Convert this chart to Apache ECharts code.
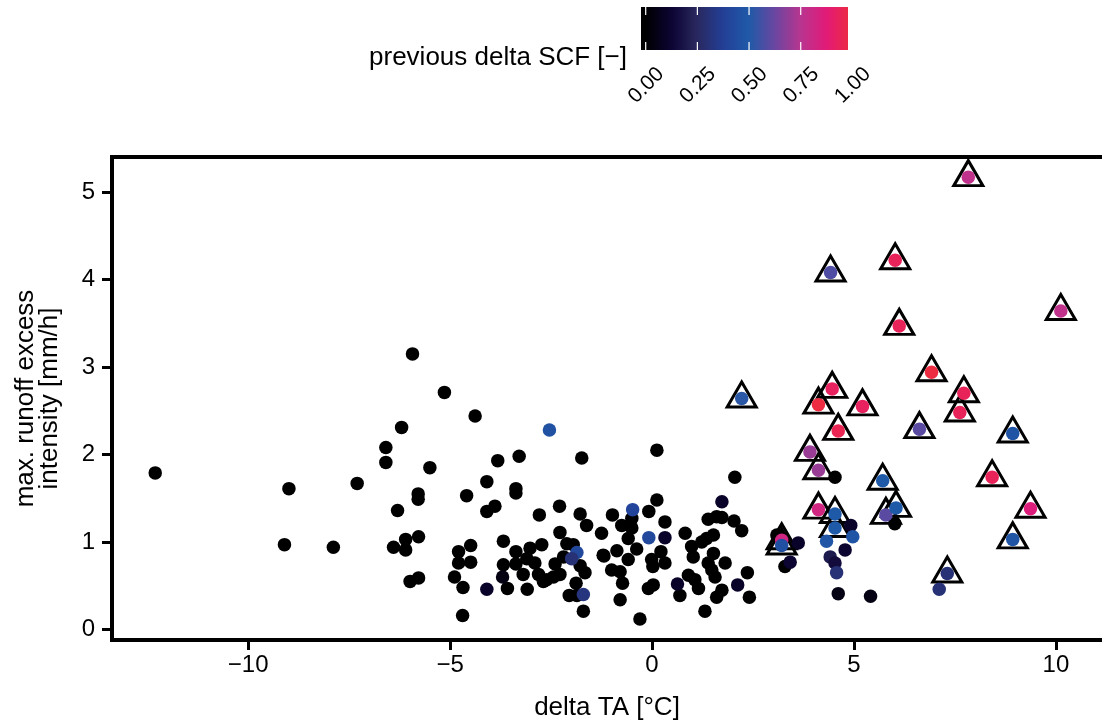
<!DOCTYPE html>
<html>
<head>
<meta charset="utf-8">
<script src="https://cdn.jsdelivr.net/npm/echarts@6/dist/echarts.min.js"></script>
<style>
  html, body { margin: 0; padding: 0; background: #ffffff; }
  #chart { width: 1102px; height: 722px; }
</style>
</head>
<body>
<div id="chart"></div>
<script>
// Temperature change per event [°C]
const deltaTA = [
  -12.30, -8.99, -9.10, -7.89, -7.30, -6.59, -6.59, -6.20, -5.14, -4.38,
  -5.50, -5.79, -5.79, -6.30, -4.59, -4.09, -3.82, -3.89, -4.09, -6.40,
  -6.10, -6.10, -5.78, -5.99, -5.78, -4.79, -4.79, -4.49, -4.49, -4.89,
  -4.68, -4.69, -5.93, -3.29, -1.74, -3.37, -3.37, -2.79, -2.29, -1.78,
  -1.62, -2.28, -1.25, -3.68, -3.37, -3.68, -3.58, -3.37, -3.02, -2.73,
  -2.90, -3.10, -3.19, -3.09, -2.81, -2.69, -2.40, -2.44, -2.19, -2.28,
  -2.11, -1.95, -1.78, -1.66, -1.88, -2.05, -1.86, -1.70, -2.61, 0.12,
  2.05, 0.12, -0.98, -0.08, -0.50, -0.75, -0.50, 0.32, -0.59, -0.38,
  -0.87, -1.19, -0.59, -1.00, -0.79, -0.73, 0.22, 0.32, -0.01, 0.02,
  -0.09, 0.03, -0.79, -0.30, 0.82, 0.98, 1.23, 1.35, 1.52, 1.02,
  1.52, 1.39, 1.48, 1.81, 1.56, 1.39, 1.60, 1.73, 2.03, 2.22,
  0.90, 1.06, 1.15, 0.69, 1.73, 1.60, 1.31, 2.36, 2.41, -1.21,
  3.09, 3.29, 4.53, 6.01,
  // events with some preceding snow-cover change
  -4.09, -2.54, -3.70, -1.86, -1.99, -1.70, 1.73, -0.48, -0.08, 0.32,
  0.63, 2.12, 3.62, 3.42, 4.92, 4.97, 4.32, 4.78, 4.41, 4.53,
  4.57, 4.61, 5.41, 7.11,
  // flagged events
  7.83, 6.02, 4.42, 10.12, 6.12, 6.92, 4.46, 7.72, 2.22, 4.12,
  5.21, 7.62, 4.61, 6.62, 8.93, 3.91, 4.12, 5.71, 8.42, 4.12,
  4.53, 4.53, 5.79, 6.04, 9.37, 8.93, 7.31, 3.21, 3.21
];

// Maximum runoff excess intensity [mm/h]
const runoffExcess = [
  1.79, 1.61, 0.97, 0.94, 1.67, 2.08, 1.91, 2.31, 2.71, 2.44,
  1.85, 1.55, 1.49, 1.36, 1.53, 1.69, 1.93, 1.41, 1.35, 0.94,
  1.03, 0.91, 1.06, 0.55, 0.59, 0.89, 0.76, 0.96, 0.77, 0.60,
  0.48, 0.16, 3.15, 1.98, 1.96, 1.61, 1.56, 1.31, 1.41, 1.32,
  1.19, 1.11, 1.10, 1.01, 0.89, 0.74, 0.47, 0.75, 0.93, 0.97,
  0.76, 0.81, 0.63, 0.46, 0.63, 0.55, 0.75, 0.60, 0.83, 0.63,
  0.98, 0.97, 0.73, 0.65, 0.53, 0.39, 0.39, 0.21, 0.57, 2.05,
  1.74, 1.48, 1.31, 1.35, 1.27, 1.19, 1.16, 1.23, 1.04, 0.92,
  0.90, 0.84, 0.80, 0.68, 0.66, 0.53, 0.89, 0.76, 0.80, 0.72,
  0.47, 0.51, 0.34, 0.12, 1.10, 0.95, 1.00, 1.04, 1.08, 0.83,
  0.87, 0.76, 0.68, 0.76, 0.60, 1.26, 1.29, 1.28, 1.24, 1.13,
  0.62, 0.57, 0.47, 0.39, 0.45, 0.37, 0.21, 0.65, 0.37, 0.85,
  1.08, 0.72, 1.74, 1.21,
  0.46, 2.28, 0.60, 0.88, 0.81, 0.40, 1.46, 1.37, 1.05, 1.05,
  0.52, 0.51, 0.99, 0.77, 1.19, 1.06, 1.01, 0.91, 0.83, 0.76,
  0.65, 0.41, 0.38, 0.46,
  5.17, 4.22, 4.08, 3.64, 3.47, 2.94, 2.75, 2.70, 2.64, 2.57,
  2.55, 2.48, 2.27, 2.29, 2.24, 2.03, 1.82, 1.70, 1.74, 1.37,
  1.32, 1.16, 1.31, 1.39, 1.38, 1.03, 0.64, 1.02, 0.96
];

// Previous change in snow-cover fraction [-]
const prevDeltaSCF = [
  0, 0, 0, 0, 0, 0, 0, 0, 0, 0,
  0, 0, 0, 0, 0, 0, 0, 0, 0, 0,
  0, 0, 0, 0, 0, 0, 0, 0, 0, 0,
  0, 0, 0, 0, 0, 0, 0, 0, 0, 0,
  0, 0, 0, 0, 0, 0, 0, 0, 0, 0,
  0, 0, 0, 0, 0, 0, 0, 0, 0, 0,
  0, 0, 0, 0, 0, 0, 0, 0, 0, 0,
  0, 0, 0, 0, 0, 0, 0, 0, 0, 0,
  0, 0, 0, 0, 0, 0, 0, 0, 0, 0,
  0, 0, 0, 0, 0, 0, 0, 0, 0, 0,
  0, 0, 0, 0, 0, 0, 0, 0, 0, 0,
  0, 0, 0, 0, 0, 0, 0, 0, 0, 0,
  0, 0, 0, 0,
  0.10, 0.46, 0.05, 0.42, 0.30, 0.32, 0.10, 0.40, 0.42, 0.10,
  0.10, 0.10, 0.10, 0.12, 0.10, 0.47, 0.48, 0.12, 0.20, 0.15,
  0.30, 0.05, 0.05, 0.30,
  0.77, 0.94, 0.58, 0.77, 0.94, 0.99, 0.93, 0.94, 0.52, 0.99,
  0.93, 0.94, 0.95, 0.60, 0.47, 0.70, 0.70, 0.50, 0.94, 0.82,
  0.50, 0.50, 0.60, 0.50, 0.86, 0.47, 0.30, 0.82, 0.45
];

// 1 = event drawn with an open triangle
const flagged = [
  0, 0, 0, 0, 0, 0, 0, 0, 0, 0,
  0, 0, 0, 0, 0, 0, 0, 0, 0, 0,
  0, 0, 0, 0, 0, 0, 0, 0, 0, 0,
  0, 0, 0, 0, 0, 0, 0, 0, 0, 0,
  0, 0, 0, 0, 0, 0, 0, 0, 0, 0,
  0, 0, 0, 0, 0, 0, 0, 0, 0, 0,
  0, 0, 0, 0, 0, 0, 0, 0, 0, 0,
  0, 0, 0, 0, 0, 0, 0, 0, 0, 0,
  0, 0, 0, 0, 0, 0, 0, 0, 0, 0,
  0, 0, 0, 0, 0, 0, 0, 0, 0, 0,
  0, 0, 0, 0, 0, 0, 0, 0, 0, 0,
  0, 0, 0, 0, 0, 0, 0, 0, 0, 0,
  0, 0, 0, 0,
  0, 0, 0, 0, 0, 0, 0, 0, 0, 0,
  0, 0, 0, 0, 0, 0, 0, 0, 0, 0,
  0, 0, 0, 0,
  1, 1, 1, 1, 1, 1, 1, 1, 1, 1,
  1, 1, 1, 1, 1, 1, 1, 1, 1, 1,
  1, 1, 1, 1, 1, 1, 1, 1, 1
];

const xTicks = [-10, -5, 0, 5, 10];
const yTicks = [0, 1, 2, 3, 4, 5];
const scfTicks = [0, 0.25, 0.5, 0.75, 1];
const scfTickLabels = ['0.00', '0.25', '0.50', '0.75', '1.00'];
const scfColors = ['#000000', '#0c0433', '#29285f', '#233f96', '#1f5aa8',
                   '#6a46a0', '#b8358f', '#e21a78', '#ee2c3c'];

const FONT = '"Liberation Sans", Arial, Helvetica, sans-serif';
const X_MIN = -13.37, X_MAX = 11.14, Y_MIN = -0.12, Y_MAX = 5.40;

const pointData = deltaTA.map((x, i) => [x, runoffExcess[i], prevDeltaSCF[i]]);
const flaggedData = pointData.filter((d, i) => flagged[i] === 1);

const minusFmt = v => (v < 0 ? '\u2212' + Math.abs(v) : String(v));

// colour bar geometry
const BAR_X = 641, BAR_Y = 7, BAR_W = 207, BAR_H = 43;
const TICK0 = 645.7, TICK_SPAN = 206.7;
const barStops = [];
for (let k = 0; k <= 60; k++) {
  const off = k / 60;
  const px = BAR_X + off * BAR_W;
  const v = Math.min(1, Math.max(0, (px - TICK0) / TICK_SPAN));
  barStops.push({ offset: off, color: echarts.color.lerp(v, scfColors) });
}
const legendChildren = [
  {
    type: 'rect',
    shape: { x: BAR_X, y: BAR_Y, width: BAR_W, height: BAR_H },
    style: { fill: new echarts.graphic.LinearGradient(0, 0, 1, 0, barStops) }
  },
  {
    type: 'text',
    x: 627, y: 58,
    style: { text: 'previous delta SCF [\u2212]', align: 'right', verticalAlign: 'middle',
             fill: '#000', font: '26px ' + FONT }
  }
];
scfTicks.forEach((v, i) => {
  const tx = TICK0 + v * TICK_SPAN;
  if (tx <= BAR_X + BAR_W) {
    legendChildren.push({ type: 'line', shape: { x1: tx, y1: BAR_Y, x2: tx, y2: BAR_Y + 8 },
      style: { stroke: '#ffffff', lineWidth: 1.2 } });
    legendChildren.push({ type: 'line', shape: { x1: tx, y1: BAR_Y + BAR_H - 8, x2: tx, y2: BAR_Y + BAR_H },
      style: { stroke: '#ffffff', lineWidth: 1.2 } });
  }
  legendChildren.push({
    type: 'text', x: tx + 15, y: 71, rotation: Math.PI / 4,
    style: { text: scfTickLabels[i], align: 'right', verticalAlign: 'middle',
             fill: '#000', font: '21px ' + FONT }
  });
});

const axisLineStyle = { color: '#000', width: 4, cap: 'square' };

const chart = echarts.init(document.getElementById('chart'), null, { renderer: 'canvas' });
chart.setOption({
  animation: false,
  backgroundColor: '#ffffff',
  grid: { left: 112, right: 0, top: 157, bottom: 82, containLabel: false, outerBoundsMode: 'none' },
  xAxis: [
    {
      type: 'value', min: X_MIN, max: X_MAX, position: 'bottom',
      axisLine: { show: true, onZero: false, lineStyle: axisLineStyle },
      axisTick: { show: true, length: 10, customValues: xTicks, lineStyle: { color: '#000', width: 3 } },
      axisLabel: { customValues: xTicks, formatter: minusFmt, color: '#000', fontSize: 24,
                   fontFamily: FONT, margin: 13 },
      splitLine: { show: false },
      name: 'delta TA [°C]', nameLocation: 'middle', nameGap: 55,
      nameTextStyle: { color: '#000', fontSize: 26, fontFamily: FONT }
    },
    {
      type: 'value', min: X_MIN, max: X_MAX, position: 'top',
      axisLine: { show: true, onZero: false, lineStyle: axisLineStyle },
      axisTick: { show: false }, axisLabel: { show: false }, splitLine: { show: false }
    }
  ],
  yAxis: {
    type: 'value', min: Y_MIN, max: Y_MAX, position: 'left',
    axisLine: { show: true, onZero: false, lineStyle: axisLineStyle },
    axisTick: { show: true, length: 10, customValues: yTicks, lineStyle: { color: '#000', width: 3 } },
    axisLabel: { customValues: yTicks, formatter: minusFmt, color: '#000', fontSize: 24,
                 fontFamily: FONT, margin: 17 },
    splitLine: { show: false },
    name: 'max. runoff excess\nintensity [mm/h]', nameLocation: 'middle', nameRotate: 90, nameGap: 50,
    nameTextStyle: { color: '#000', fontSize: 26, fontFamily: FONT, lineHeight: 24, align: 'center' }
  },
  visualMap: {
    type: 'continuous', show: false, min: 0, max: 1, dimension: 2, seriesIndex: 1,
    inRange: { color: scfColors }
  },
  series: [
    {
      type: 'scatter', name: 'flagged', xAxisIndex: 0, yAxisIndex: 0,
      data: flaggedData, symbol: 'triangle', symbolSize: [29, 25], symbolOffset: [0, -4],
      itemStyle: { color: 'rgba(0,0,0,0)', borderColor: '#000', borderWidth: 3, opacity: 1 },
      silent: true, z: 2
    },
    {
      type: 'scatter', name: 'events', xAxisIndex: 0, yAxisIndex: 0,
      data: pointData, symbol: 'circle', symbolSize: 13.5,
      itemStyle: { opacity: 1 }, silent: true, z: 3
    }
  ],
  graphic: [{ type: 'group', children: legendChildren }]
});
</script>
</body>
</html>
